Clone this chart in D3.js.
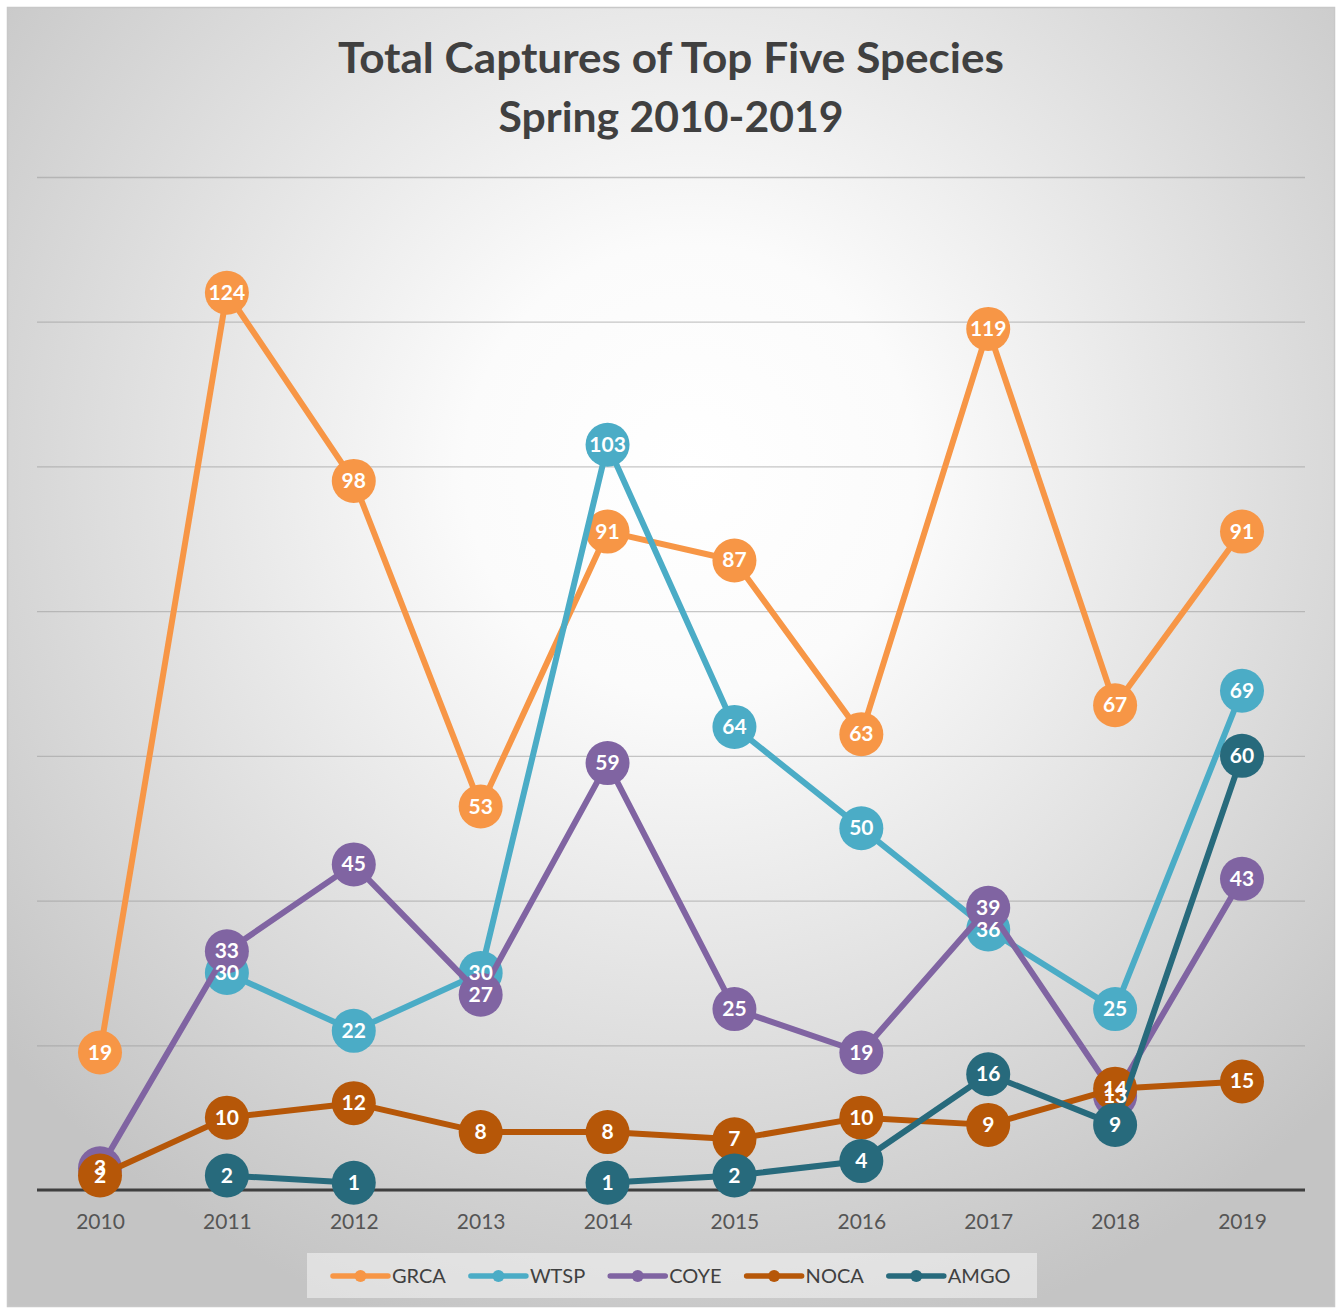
<!DOCTYPE html>
<html><head><meta charset="utf-8">
<script src="https://cdn.jsdelivr.net/npm/d3@7"></script>
<style>html,body{margin:0;padding:0;background:#fff;}svg{display:block;}</style>
</head><body>
<script>
const years = ["2010","2011","2012","2013","2014","2015","2016","2017","2018","2019"];
const grca = [19,124,98,53,91,87,63,119,67,91];
const wtsp = [null,30,22,30,103,64,50,36,25,69];
const coye = [3,33,45,27,59,25,19,39,13,43];
const noca = [2,10,12,8,8,7,10,9,14,15];
const amgo = [null,2,1,null,1,2,4,16,9,60];
const seriesNames = ["GRCA","WTSP","COYE","NOCA","AMGO"];
const seriesColors = ["#F79646","#4BACC6","#8064A2","#B65708","#276A7C"];
const yTicks = [0,20,40,60,80,100,120,140];
const titleLines = ["Total Captures of Top Five Species","Spring 2010-2019"];

const W = 1343, H = 1309;
const FONT = "Lato, 'Open Sans', sans-serif";
const svg = d3.select("body").append("svg").attr("width", W).attr("height", H);
const defs = svg.append("defs");
const rg = defs.append("radialGradient").attr("id","bg")
  .attr("gradientUnits","userSpaceOnUse")
  .attr("cx",690).attr("cy",470).attr("r",900);
rg.append("stop").attr("offset","0%").attr("stop-color","#ffffff");
rg.append("stop").attr("offset","25%").attr("stop-color","#fbfbfb");
rg.append("stop").attr("offset","100%").attr("stop-color","#c4c4c4");

svg.append("rect").attr("x",7.5).attr("y",7.5).attr("width",1327).attr("height",1299)
  .attr("fill","url(#bg)").attr("stroke","#c8c8c8").attr("stroke-width",1.5);

const x = d3.scalePoint().domain(years).range([100,1242]);
const y = d3.scaleLinear().domain([0,140]).range([1190,177]);

// gridlines
const yAxis = d3.axisLeft(y).tickValues(yTicks).tickSize(-(1305-37)).tickFormat("");
const gy = svg.append("g").attr("transform","translate(37,0)").call(yAxis);
gy.select(".domain").remove();
gy.selectAll(".tick line").attr("stroke","#9a9a9a").attr("stroke-opacity",0.55).attr("stroke-width",1.3);

// x axis
const xAxis = d3.axisBottom(x).tickSize(0).tickPadding(24);
const gx = svg.append("g").attr("transform","translate(0,1190)").call(xAxis);
gx.select(".domain").remove();
gx.selectAll(".tick text").attr("font-family",FONT).attr("font-size",21).attr("fill","#555");
svg.append("line").attr("x1",37).attr("x2",1305).attr("y1",1190).attr("y2",1190)
  .attr("stroke","#3f3f3f").attr("stroke-width",3);

// title
const title = svg.append("g");
const titleW = [666,345];
titleLines.forEach((t,i)=>{
  title.append("text").attr("x",671).attr("y",[73,132][i]).attr("text-anchor","middle")
    .attr("font-family",FONT).attr("font-weight","bold").attr("font-size",42)
    .attr("textLength",titleW[i]).attr("lengthAdjust","spacingAndGlyphs")
    .attr("fill","#404040").text(t);
});

const allSeries = [grca,wtsp,coye,noca,amgo];
const line = d3.line().defined(d=>d.v!=null).x(d=>x(d.yr)).y(d=>y(d.v));
const R = 22;
const marksG = svg.append("g");
allSeries.forEach((vals,si)=>{
  const pts = vals.map((v,i)=>({yr:years[i],v}));
  const g = marksG.append("g");
  g.append("path").datum(pts).attr("d",line).attr("fill","none")
    .attr("stroke",seriesColors[si]).attr("stroke-width",6).attr("stroke-linejoin","round");
  g.selectAll("circle").data(pts.filter(d=>d.v!=null)).join("circle")
    .attr("cx",d=>x(d.yr)).attr("cy",d=>y(d.v)).attr("r",R).attr("fill",seriesColors[si]);
});
const labG = svg.append("g");
allSeries.forEach((vals,si)=>{
  const pts = vals.map((v,i)=>({yr:years[i],v})).filter(d=>d.v!=null);
  labG.append("g").selectAll("text").data(pts).join("text")
    .attr("x",d=>x(d.yr)).attr("y",d=>y(d.v)+7).attr("text-anchor","middle")
    .attr("font-family",FONT).attr("font-weight","bold").attr("font-size",21)
    .attr("fill","#fff").text(d=>d.v);
});

// legend
svg.append("rect").attr("x",307).attr("y",1253).attr("width",730).attr("height",45)
  .attr("fill","#f2f2f2").attr("fill-opacity",0.6);
const lg = svg.append("g");
let lx = 333;
seriesNames.forEach((n,i)=>{
  const it = lg.append("g");
  it.append("line").attr("x1",lx).attr("x2",lx+55).attr("y1",1276).attr("y2",1276)
    .attr("stroke",seriesColors[i]).attr("stroke-width",5.5).attr("stroke-linecap","round");
  it.append("circle").attr("cx",lx+27.5).attr("cy",1276).attr("r",6).attr("fill",seriesColors[i]);
  const t = it.append("text").attr("x",lx+59).attr("y",1283).attr("font-family",FONT)
    .attr("font-size",20).attr("fill","#404040").text(n);
  lx += 59 + t.node().getComputedTextLength() + 25;
});
</script>
</body></html>
